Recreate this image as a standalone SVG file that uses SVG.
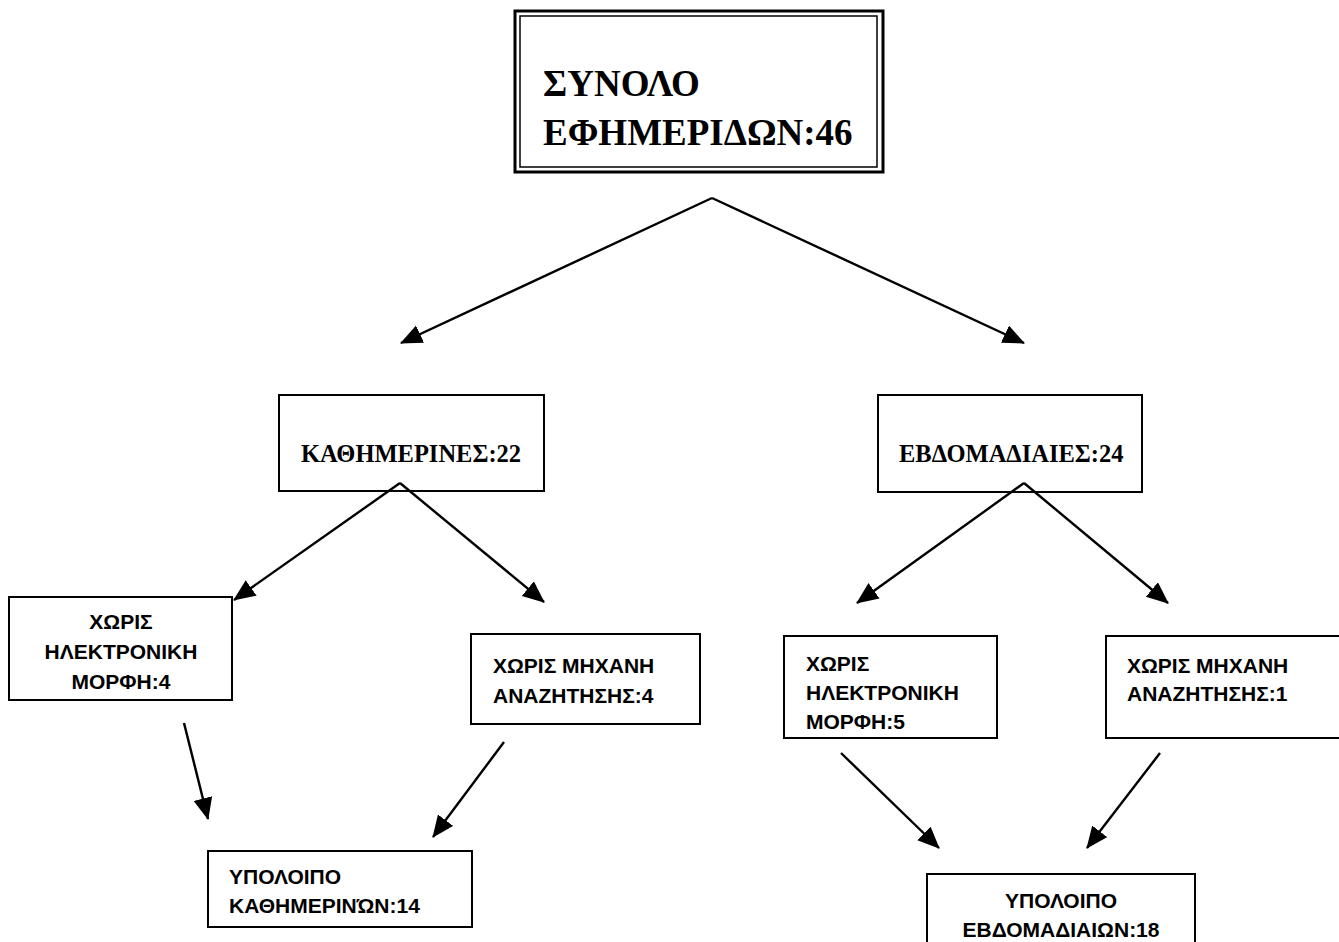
<svg xmlns="http://www.w3.org/2000/svg" width="1339" height="942" viewBox="0 0 1339 942">
<defs>
<style>
.box{fill:#fff;stroke:#000;stroke-width:2}
.serif{font-family:"Liberation Serif","Times New Roman",serif;font-weight:bold;fill:#000}
.sans{font-family:"Liberation Sans",Arial,sans-serif;font-weight:bold;font-size:21px;fill:#000}
.conn line{stroke:#000;stroke-width:2.4;marker-end:url(#ah)}
</style>
<marker id="ah" markerUnits="userSpaceOnUse" markerWidth="24" markerHeight="22" refX="21" refY="9.5" orient="auto">
<path d="M0,0 L22,9.5 L0,19 z" fill="#000"/>
</marker>
</defs>
<rect width="1339" height="942" fill="#fff"/>
<g id="total">
<rect x="515" y="11" width="368" height="161" fill="#fff" stroke="#000" stroke-width="3"/>
<rect x="520" y="16" width="357" height="151" fill="none" stroke="#000" stroke-width="1.5"/>
<text class="serif" font-size="37" x="543" y="96">ΣΥΝΟΛΟ</text>
<text class="serif" font-size="37" x="543" y="145">ΕΦΗΜΕΡΙΔΩΝ:46</text>
</g>
<g id="daily">
<rect class="box" x="279" y="395" width="265" height="96"/>
<text class="serif" font-size="24.5" x="301" y="462">ΚΑΘΗΜΕΡΙΝΕΣ:22</text>
</g>
<g id="weekly">
<rect class="box" x="878" y="395" width="264" height="97"/>
<text class="serif" font-size="24.5" x="899" y="462">ΕΒΔΟΜΑΔΙΑΙΕΣ:24</text>
</g>
<g id="daily-no-electronic">
<rect class="box" x="9" y="597" width="223" height="103"/>
<text class="sans" text-anchor="middle" x="121" y="629">ΧΩΡΙΣ</text>
<text class="sans" text-anchor="middle" x="121" y="659">ΗΛΕΚΤΡΟΝΙΚΗ</text>
<text class="sans" text-anchor="middle" x="121" y="689">ΜΟΡΦΗ:4</text>
</g>
<g id="daily-no-search">
<rect class="box" x="471" y="634" width="229" height="90"/>
<text class="sans" x="493" y="673">ΧΩΡΙΣ ΜΗΧΑΝΗ</text>
<text class="sans" x="493" y="703">ΑΝΑΖΗΤΗΣΗΣ:4</text>
</g>
<g id="weekly-no-electronic">
<rect class="box" x="784" y="636" width="213" height="102"/>
<text class="sans" x="806" y="671">ΧΩΡΙΣ</text>
<text class="sans" x="806" y="700">ΗΛΕΚΤΡΟΝΙΚΗ</text>
<text class="sans" x="806" y="729">ΜΟΡΦΗ:5</text>
</g>
<g id="weekly-no-search">
<rect class="box" x="1106" y="636" width="240" height="102"/>
<text class="sans" x="1127" y="673">ΧΩΡΙΣ ΜΗΧΑΝΗ</text>
<text class="sans" x="1127" y="701">ΑΝΑΖΗΤΗΣΗΣ:1</text>
</g>
<g id="daily-rest">
<rect class="box" x="208" y="851" width="264" height="76"/>
<text class="sans" x="229" y="884">ΥΠΟΛΟΙΠΟ</text>
<text class="sans" x="229" y="913">ΚΑΘΗΜΕΡΙΝΏΝ:14</text>
</g>
<g id="weekly-rest">
<rect class="box" x="927" y="874" width="268" height="80"/>
<text class="sans" text-anchor="middle" x="1061" y="908">ΥΠΟΛΟΙΠΟ</text>
<text class="sans" text-anchor="middle" x="1061" y="937">ΕΒΔΟΜΑΔΙΑΙΩΝ:18</text>
</g>
<g id="connectors" class="conn">
<line x1="712" y1="198" x2="401" y2="343"/>
<line x1="712" y1="198" x2="1024" y2="343"/>
<line x1="400" y1="483" x2="234" y2="600"/>
<line x1="400" y1="483" x2="544" y2="602"/>
<line x1="1024" y1="483" x2="857" y2="603"/>
<line x1="1024" y1="483" x2="1168" y2="603"/>
<line x1="184" y1="723" x2="208" y2="819"/>
<line x1="504" y1="742" x2="433" y2="837"/>
<line x1="841" y1="753" x2="939" y2="848"/>
<line x1="1160" y1="753" x2="1087" y2="848"/>
</g>
</svg>
